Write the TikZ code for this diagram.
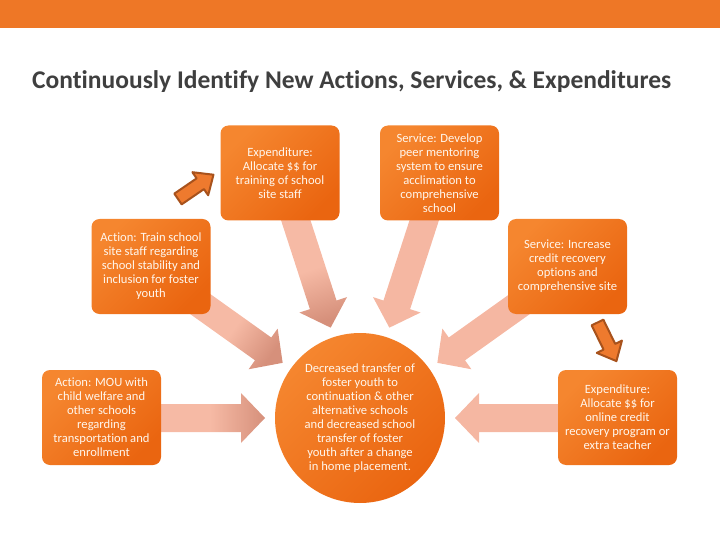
\documentclass[tikz,border=0pt]{standalone}
\usepackage{fontspec}
\setmainfont{Carlito}[Ligatures=NoCommon]
\usetikzlibrary{calc}
\definecolor{barorange}{HTML}{EE7726}
\definecolor{boxA}{HTML}{F5862F}
\definecolor{boxB}{HTML}{EA6510}
\definecolor{arrLight}{HTML}{F6BAA5}
\definecolor{arrDark}{HTML}{D6907B}
\definecolor{arrRight}{HTML}{F5B7A2}
\definecolor{titlegray}{HTML}{3F3F3F}
\definecolor{smallfill}{HTML}{EE7A2E}
\definecolor{smalledge}{HTML}{A8521C}
\definecolor{textcream}{HTML}{FFF6EC}
\newcommand\blockarr[3]{%
  \path[#3] ($(c.center)+(#1:#2)+(#1+90:14)$) -- ($(c.center)+(#1:119)+(#1+90:14)$)
    -- ($(c.center)+(#1:119)+(#1+90:25)$) -- ($(c.center)+(#1:95)$)
    -- ($(c.center)+(#1:119)+(#1-90:25)$) -- ($(c.center)+(#1:119)+(#1-90:14)$)
    -- ($(c.center)+(#1:#2)+(#1-90:14)$) -- cycle;}
\newcommand\smallarr[2]{%
  \path[smallarrow] ($(#1)+(#2+90:6.5)$) -- ($(#1)+(#2:27)+(#2+90:6.5)$)
    -- ($(#1)+(#2:27)+(#2+90:14)$) -- ($(#1)+(#2:43)$)
    -- ($(#1)+(#2:27)+(#2-90:14)$) -- ($(#1)+(#2:27)+(#2-90:6.5)$)
    -- ($(#1)+(#2-90:6.5)$) -- cycle;}
\begin{document}
\begin{tikzpicture}[x=1pt,y=1pt,
  box/.style={rounded corners=8pt, minimum width=119pt, minimum height=95pt,
    inner sep=0pt, align=center, text=textcream,
    font=\fontsize{12.6}{14}\selectfont,
    top color=boxA, bottom color=boxB, shading angle=45},
  hub/.style={circle, minimum size=170pt, inner sep=0pt, align=center,
    text=textcream, font=\fontsize{12.6}{14}\selectfont,
    top color=boxA, bottom color=boxB, shading angle=45},
  leftarr/.style={top color=arrDark, bottom color=arrLight, middle color=arrLight, shading angle=#1},
  rightarr/.style={fill=arrRight},
  smallarrow/.style={fill=smallfill, draw=smalledge, line width=2pt, line join=round}
]
\useasboundingbox (0,0) rectangle (720,-540);
\fill[barorange] (0,0) rectangle (720,-28);
\node[anchor=base west, text=titlegray, inner sep=0pt,
  font=\fontsize{25.5}{30}\selectfont\bfseries] (title) at (32,-89)
  {Continuously Identify New Actions, Services, \& Expenditures};

\node[hub] (c) at (360,-418) {Decreased transfer of\\foster youth to\\continuation \& other\\alternative schools\\and decreased school\\transfer of foster\\youth after a change\\in home placement.};

\blockarr{108}{215}{leftarr=198}
\blockarr{144.5}{205}{leftarr=234.5}
\blockarr{180}{205}{leftarr=270}
\blockarr{72}{215}{rightarr}
\blockarr{35.5}{205}{rightarr}
\blockarr{0}{205}{rightarr}

\node[box] (e1) at (280,-173) {Expenditure:\\Allocate \$\$ for\\training of school\\site staff};
\node[box] (s1) at (439.5,-173) {Service: Develop\\peer mentoring\\system to ensure\\acclimation to\\comprehensive\\school};
\node[box] (a1) at (151,-266.5) {Action: Train school\\site staff regarding\\school stability and\\inclusion for foster\\youth};
\node[box] (s2) at (567.5,-266.5) {Service: Increase\\credit recovery\\options and\\comprehensive site};
\node[box] (a2) at (101.5,-417.5) {Action: MOU with\\child welfare and\\other schools\\regarding\\transportation and\\enrollment};
\node[box] (e2) at (617.5,-417.5) {Expenditure:\\Allocate \$\$ for\\online credit\\recovery program or\\extra teacher};

\coordinate (sa1) at (178,-199);
\coordinate (sa2) at (597.5,-322.5);
\smallarr{sa1}{34.4}
\smallarr{sa2}{-63.9}
\end{tikzpicture}
\end{document}
